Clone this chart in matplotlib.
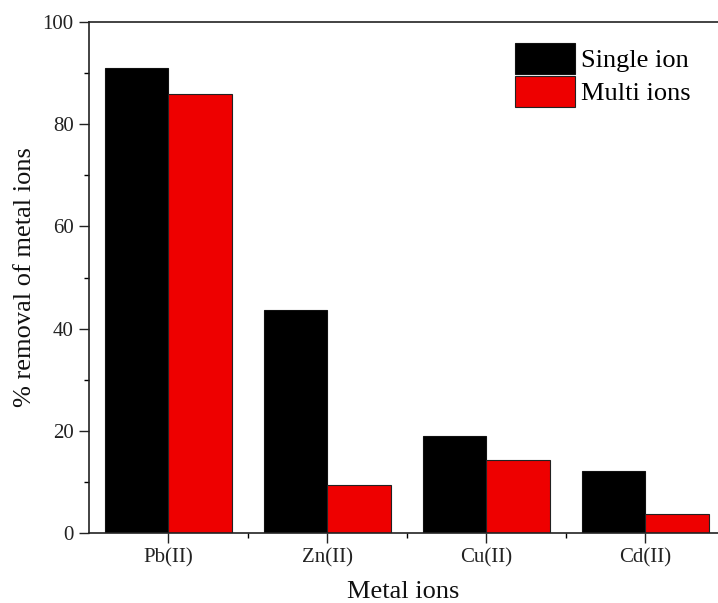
import numpy as np
import matplotlib.pyplot as plt
from matplotlib.ticker import MultipleLocator, FixedLocator

plt.rcParams['font.family'] = ['Liberation Serif', 'DejaVu Serif']

# data
metals = ['Pb(II)', 'Zn(II)', 'Cu(II)', 'Cd(II)']
single_ion = [91.0, 43.6, 18.9, 12.2]
multi_ions = [86.0, 9.3, 14.2, 3.7]

x = np.arange(1, len(metals) + 1)
w = 0.4

fig = plt.figure(figsize=(7.18, 6.03), dpi=100)
ax = fig.add_axes([89 / 718, 70 / 603, (724.5 - 89) / 718, (533 - 22) / 603])

ax.bar(x - w / 2, single_ion, width=w, color='black', edgecolor='#111111',
       linewidth=0.8, label='Single ion')
ax.bar(x + w / 2, multi_ions, width=w, color='#ee0000', edgecolor='#222222',
       linewidth=0.8, label='Multi ions')

ax.set_xlim(0.5, 4.5)
ax.set_ylim(0, 100)
ax.set_xticks(x)
ax.set_xticklabels(metals)
ax.xaxis.set_minor_locator(FixedLocator([1.5, 2.5, 3.5]))
ax.yaxis.set_major_locator(MultipleLocator(20))
ax.yaxis.set_minor_locator(MultipleLocator(10))

ax.tick_params(which='major', direction='out', length=7, width=1.0,
               labelsize=15, colors='#222222', pad=4)
ax.tick_params(which='minor', direction='out', length=3.5, width=1.0)
ax.tick_params(top=False, right=False, which='both')

for s in ax.spines.values():
    s.set_linewidth(1.2)
    s.set_color('#222222')

ax.set_xlabel('Metal ions', fontsize=19, color='#111111')
ax.xaxis.set_label_coords(0.494, -0.094)
ax.set_ylabel('% removal of metal ions', fontsize=19, labelpad=5, color='#111111')

ax.legend(loc='upper left', bbox_to_anchor=(515 / 718, 1 - 43 / 603),
          bbox_transform=fig.transFigure, frameon=False, fontsize=19,
          handlelength=2.26, handleheight=1.43, labelspacing=0.076,
          handletextpad=0.25, borderpad=0, borderaxespad=0)

fig.savefig('out.png', dpi=100)
